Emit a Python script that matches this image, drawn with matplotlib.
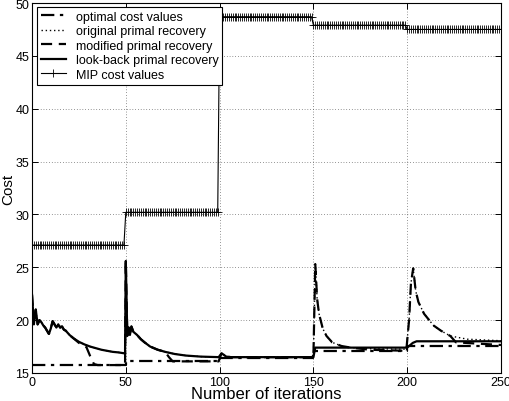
import numpy as np
import matplotlib
matplotlib.use("Agg")
import matplotlib.pyplot as plt

plt.rcParams['font.family'] = ['Liberation Sans', 'DejaVu Sans']

# ---------------- data ----------------
# optimal cost values (piecewise constant per 50-iteration block)
opt_x = [0, 50, 50, 100, 100, 150, 150, 200, 200, 250]
opt_y = [15.75, 15.75, 16.1, 16.1, 16.45, 16.45, 17.1, 17.1, 17.6, 17.6]

# look-back primal recovery (solid)
lb_x = [0, 1, 2, 3, 4, 5, 6, 7, 8, 9, 10, 11, 12, 13, 14, 15, 16, 17, 18, 19, 20,
        22, 25, 28, 31, 34, 37, 40, 43, 46, 49.6,
        50, 50.8, 51.5, 52.2, 53, 54, 56, 58, 60, 63, 67, 71, 76, 82, 90, 99.5,
        101, 102, 103.5, 106, 150,
        151, 200, 201, 203, 205, 250]
lb_y = [22.4, 19.6, 21.0, 19.6, 20.0, 19.8, 19.5, 19.3, 19.0, 18.7, 19.2, 19.9, 19.6, 19.3, 19.6, 19.3, 19.4, 19.1, 19.0, 18.8, 18.6,
        18.3, 17.95, 17.7, 17.5, 17.35, 17.2, 17.1, 17.0, 16.95, 16.85,
        25.6, 18.5, 19.3, 18.6, 19.4, 18.9, 18.6, 18.2, 17.9, 17.5, 17.2, 17.0, 16.8, 16.65, 16.55, 16.5,
        16.85, 16.75, 16.55, 16.5, 16.5,
        17.4, 17.4, 17.55, 17.85, 18.0, 18.0]

# original primal recovery (dotted)
orig_x = lb_x[:52] + [151, 152, 153, 155, 157, 160, 165, 170, 180, 199.5,
                      201, 202, 203.2, 204.5, 206, 209, 214, 218, 223, 232, 250]
orig_y = lb_y[:52] + [25.3, 22.0, 20.6, 19.2, 18.5, 17.9, 17.55, 17.4, 17.3, 17.25,
                      20.0, 23.5, 24.9, 22.8, 21.7, 20.6, 19.5, 19.0, 18.5, 18.2, 18.05]

# modified primal recovery (dashed)
mod_x = lb_x[:22] + [22, 25, 29, 31, 33, 35, 49.6,
                     50, 50.8, 51.5, 52.2, 53, 54, 56, 58, 60, 63, 67, 71, 73, 75, 99.5,
                     101, 102, 103.5, 106, 150,
                     151, 152, 153, 155, 157, 160, 165, 170, 180, 199.5,
                     201, 202, 203.2, 204.5, 206, 209, 214, 218, 223, 226, 250]
mod_y = lb_y[:22] + [18.3, 17.85, 17.45, 16.6, 15.85, 15.75, 15.75,
                     25.6, 18.5, 19.3, 18.6, 19.4, 18.9, 18.6, 18.2, 17.9, 17.5, 17.2, 17.0, 16.5, 16.1, 16.1,
                     16.85, 16.75, 16.55, 16.5, 16.5,
                     25.3, 22.0, 20.6, 19.2, 18.5, 17.9, 17.55, 17.4, 17.2, 17.1,
                     20.0, 23.5, 24.9, 22.8, 21.7, 20.6, 19.5, 19.0, 18.5, 17.9, 17.65]

# MIP cost values: one value per 50-iteration block
mip_block_vals = [27.1, 30.2, 48.7, 47.9, 47.5]
mip_block_len = [50, 50, 50, 50, 51]
mip_y = np.repeat(mip_block_vals, mip_block_len)
mip_x = np.arange(len(mip_y))

# ---------------- figure ----------------
fig = plt.figure(figsize=(5.10, 4.02), dpi=100)
ax = fig.add_axes([32/510, 28/402, 469/510, 370/402])

k = 'black'
ax.plot(opt_x, opt_y, color=k, lw=1.6, ls=(0, (6, 2.5, 1.5, 2.5)), label='optimal cost values')
ax.plot(orig_x, orig_y, color=k, lw=1.0, ls=(0, (1, 2)), label='original primal recovery')
ax.plot(mod_x, mod_y, color=k, lw=1.6, ls=(0, (5, 3)), label='modified primal recovery')
ax.plot(lb_x, lb_y, color=k, lw=1.6, ls='-', label='look-back primal recovery')
ax.plot(mip_x, mip_y, color=k, lw=0.8, marker='+', ms=5.5, mew=0.6, label='MIP cost values')

ax.set_xlim(0, 250)
ax.set_ylim(15, 50)
ax.set_xticks([0, 50, 100, 150, 200, 250])
ax.set_yticks([15, 20, 25, 30, 35, 40, 45, 50])
ax.tick_params(direction='in', length=4, width=0.7, top=True, right=True,
               labelsize=9, pad=2)
for s in ax.spines.values():
    s.set_linewidth(0.8)
ax.grid(True, color='#333333', ls=(0, (1, 3)), lw=0.5)
ax.set_xlabel('Number of iterations', fontsize=12, labelpad=-1)
ax.set_ylabel('Cost', fontsize=11, labelpad=0)

leg = ax.legend(loc='upper left', bbox_to_anchor=(0.011, 0.989), borderaxespad=0,
                fontsize=9, frameon=True, fancybox=False, framealpha=1,
                edgecolor=k, handlelength=2.0, labelspacing=0.2,
                borderpad=0.3, handletextpad=0.8)
leg.get_frame().set_linewidth(0.8)

fig.savefig('out.png', dpi=100)
